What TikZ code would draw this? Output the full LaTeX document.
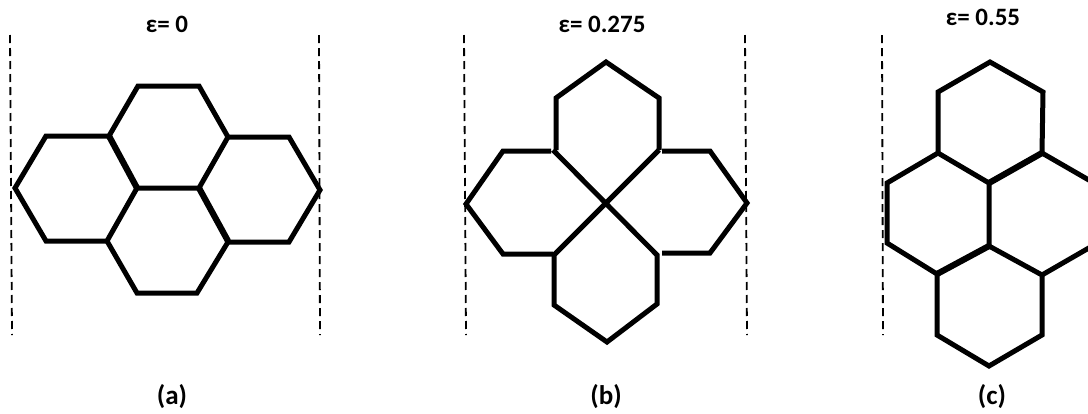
\documentclass[tikz,border=0pt]{standalone}
\usepackage{fontspec}
\setmainfont{Carlito}
\usetikzlibrary{positioning}
\tikzset{
  hexline/.style={line width=5pt, line join=miter, black},
  hexheavy/.style={line width=6.2pt, black},
  cutline/.style={line width=1.8pt, black, dash pattern=on 8pt off 5pt},
  caption/.style={font=\fontsize{25}{28}\selectfont\bfseries, inner sep=0pt},
  sublabel/.style={font=\fontsize{27}{30}\selectfont\bfseries, inner sep=0pt}
}

\begin{document}
\begin{tikzpicture}[x=1pt, y=-1pt]
\clip (0,0) rectangle (1088,413);

% panel a
\draw[cutline] (10,35) -- (12,335);
\draw[cutline] (319,35) -- (320,335);
\draw[hexline] (109,136) -- (138,86) -- (199,86) -- (228,137) -- (199,188) -- (137,188) -- (107,241) -- (46,241) -- (15,188) -- (46,136) -- (109,136);
\draw[hexline] (228,137) -- (289,137) -- (320,190) -- (289,242) -- (228,242) -- (197,293) -- (137,293) -- (107,241);
\draw[hexheavy] (109,136) -- (137,188);
\draw[hexheavy] (199,188) -- (228,241);
\node[caption] (titlea) at (167,24) {ε= 0};
\node[sublabel] (laba) at (172,397) {(a)};

% panel b
\draw[cutline] (464,35) -- (466,335);
\draw[cutline] (745,35) -- (747,335);
\draw[hexline] (556,150) -- (556,98) -- (606,62) -- (659,98) -- (659,150);
\draw[hexline] (553,150) -- (657,255) -- (657,304) -- (607,342) -- (554,305) -- (554,255) -- (659,150);
\draw[hexline] (551,151) -- (503,151) -- (466,204) -- (503,254) -- (553,254);
\draw[hexline] (662,151) -- (710,151) -- (747,203) -- (710,253) -- (662,253);
\node[caption] (titleb) at (602,24) {ε= 0.275};
\node[sublabel] (labb) at (606,397) {(b)};

% panel c
\draw[cutline] (882,35) -- (883,335);
\draw[hexline] (938,153) -- (938,92) -- (990,62) -- (1043,92) -- (1042,153) -- (989,183) -- (938,153) -- (887,183) -- (887,243) -- (937,274) -- (989,246) -- (989,183);
\draw[hexline] (989,246) -- (1042,275) -- (1042,335) -- (989,366) -- (937,335) -- (937,274);
\draw[hexline] (1042,153) -- (1094,183);
\draw[hexline] (1042,275) -- (1094,245);
\draw[hexheavy] (989,183) -- (1042,153);
\draw[hexheavy] (937,274) -- (989,246);
\node[caption] (titlec) at (983,17) {ε= 0.55};
\node[sublabel] (labc) at (992,397) {(c)};
\end{tikzpicture}
\end{document}
